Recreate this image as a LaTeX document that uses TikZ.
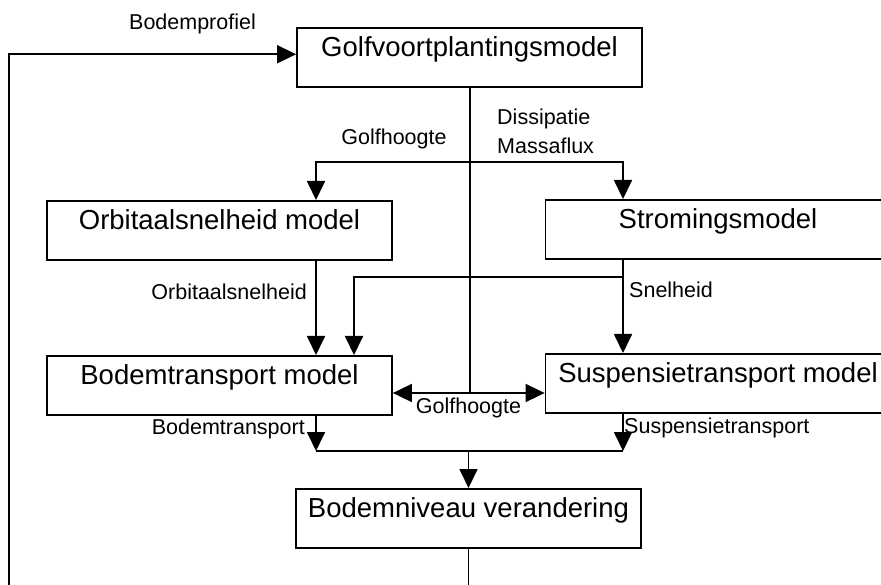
\documentclass[tikz,border=0pt]{standalone}
\usepackage{fontspec}
\setmainfont{Liberation Sans}
\usetikzlibrary{arrows.meta}
\begin{document}
\begin{tikzpicture}[x=1pt,y=-1pt,
  wire/.style={line width=1.8pt},
  arr/.style={wire,-{Triangle[length=19pt,width=18pt]}},
  box/.style={draw, line width=1.8pt, minimum width=345pt, inner xsep=0pt, inner ysep=0pt,
    text height=29pt, text depth=30pt, font=\fontsize{27.5}{30}\selectfont, anchor=north},
  lab/.style={font=\fontsize{21.5}{24}\selectfont, inner sep=0pt}]
\useasboundingbox (0,0) rectangle (881,585);
\clip (0,0) rectangle (881,585);
% boxes
\node[box] (golf) at (469.5,27) {Golfvoortplantingsmodel};
\node[box] (orb)  at (219.5,200) {Orbitaalsnelheid model};
\node[box] (st)   at (718,199) {Stromingsmodel};
\node[box] (bt)   at (219.5,355) {Bodemtransport model};
\node[box] (su)   at (718,353) {Suspensietransport model};
\node[box] (bniv) at (468.5,488) {Bodemniveau verandering};
% helper coordinates
\coordinate (xl) at (316,0);
\coordinate (xr) at (623,0);
\coordinate (xm) at (354,0);
\coordinate (j1) at (470,162);
\coordinate (sn) at (623,277);
\coordinate (gh) at (470,393);
\coordinate (hl) at (316,451);
\coordinate (hr) at (623,451);
\coordinate (fb) at (9,600);
% connectors
\draw[arr] (bniv.south) |- (fb) |- (golf.mid west);
\draw[wire] (golf.south -| gh) -- (gh);
\draw[arr] (j1) -| (orb.north -| xl);
\draw[arr] (j1) -| (st.north -| xr);
\draw[arr] (orb.south -| xl) -- (bt.north -| xl);
\draw[arr] (st.south -| xr) -- (su.north -| xr);
\draw[arr] (sn) -| (bt.north -| xm);
\draw[arr] (gh) -- (bt.east |- gh);
\draw[arr] (gh) -- (su.west |- gh);
\draw[wire] (hl) -- (hr);
\draw[arr] (bt.south -| hl) -- (hl);
\draw[arr] (su.south -| hr) -- (hr);
\draw[arr] (bniv.north |- hl) -- (bniv.north);
% labels
\node[lab, anchor=base] (lbp) at (192.5,30) {Bodemprofiel};
\node[lab, anchor=base] (lgh1) at (394,145) {Golfhoogte};
\node[lab, anchor=base west] (ldis) at (497,125) {Dissipatie};
\node[lab, anchor=base west] (lmas) at (497,154) {Massaflux};
\node[lab, anchor=base east] (lorb) at (307,300) {Orbitaalsnelheid};
\node[lab, anchor=base west] (lsn) at (629,298) {Snelheid};
\node[lab, anchor=base] (lgh2) at (468.5,413) {Golfhoogte};
\node[lab, anchor=base east] (lbt) at (305,434) {Bodemtransport};
\node[lab, anchor=base west] (lsu) at (624,433) {Suspensietransport};
\end{tikzpicture}
\end{document}
